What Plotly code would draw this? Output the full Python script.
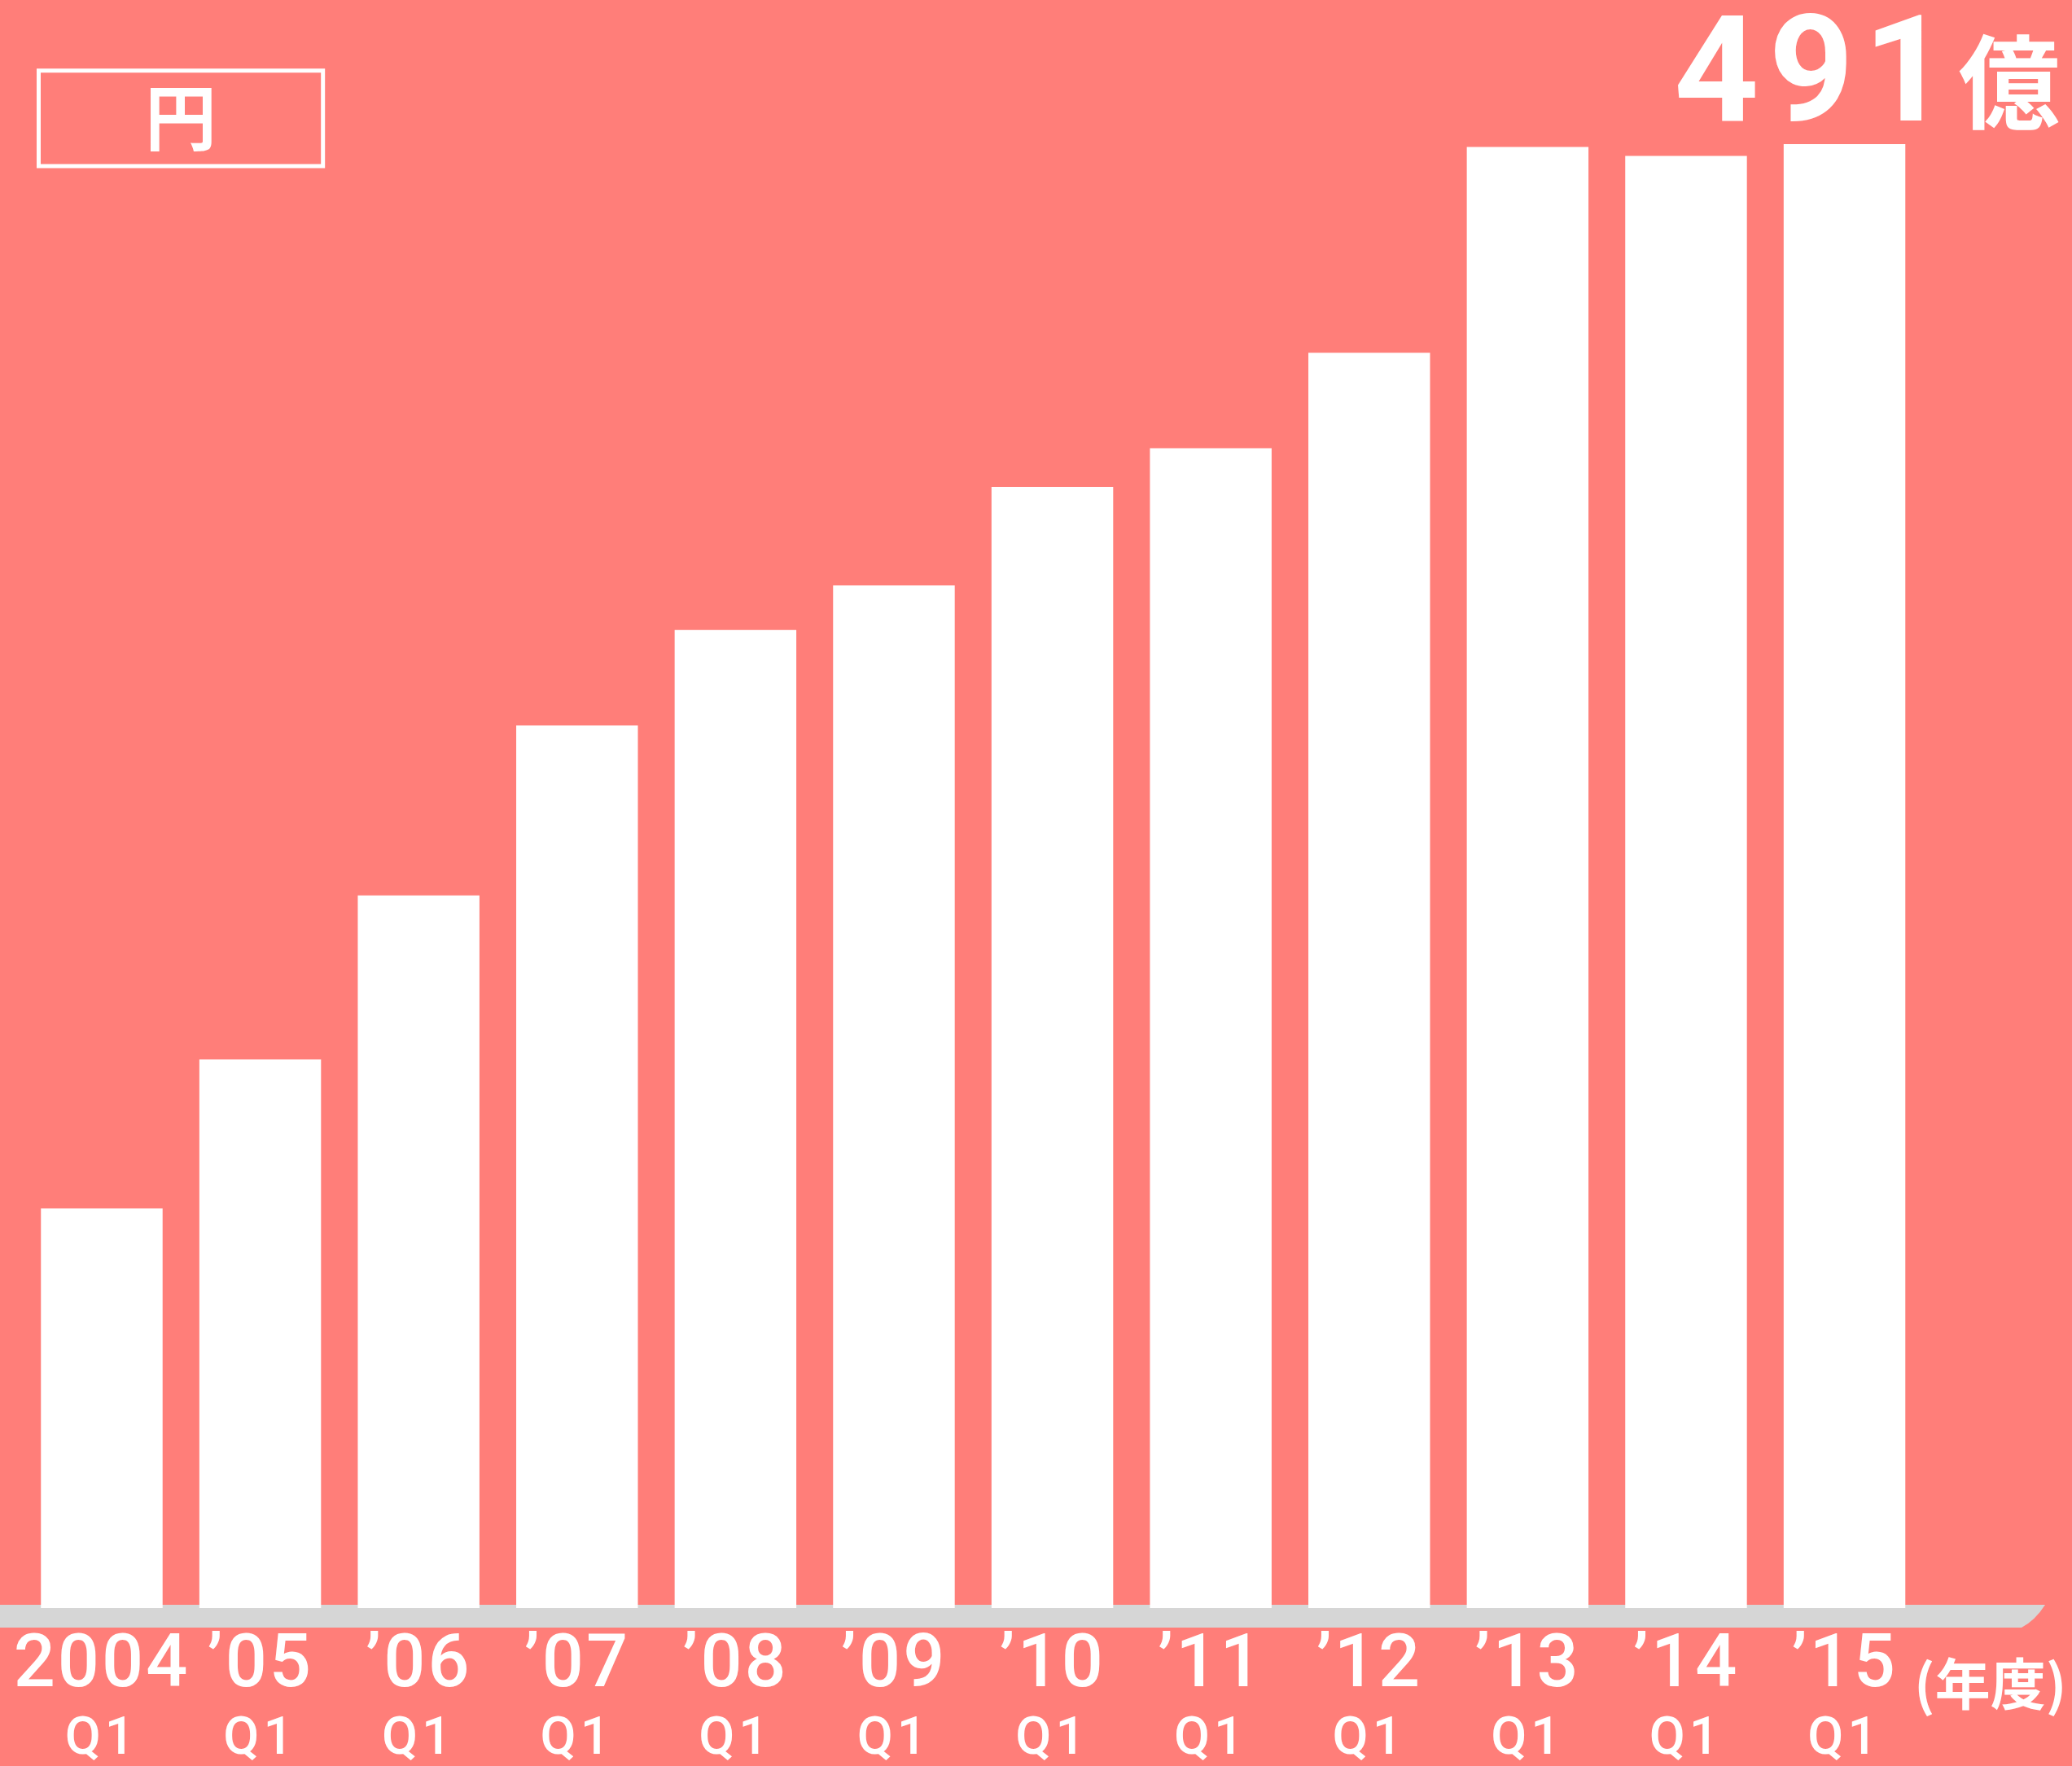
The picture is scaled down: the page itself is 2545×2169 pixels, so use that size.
import plotly.graph_objects as go

# ---- data ----
years = ["2004", "’05", "’06", "’07", "’08", "’09", "’10", "’11", "’12", "’13", "’14", "’15"]
quarters = ["Q1", "Q1", "Q1", "Q1", "Q1", "Q1", "Q1", "Q1", "Q1", "Q1", "Q1", "Q1"]
values = [134, 184, 239, 296, 328, 343, 376, 389, 421, 490, 487, 491]  # 億円
unit_label = "円"
total_label = "491"
total_unit = "億"
axis_unit = "(年度)"

categories = [f"{y} {q}" for y, q in zip(years, quarters)]
ticktext = [
    f"<span style='font-size:90px;letter-spacing:3px'>{y}</span><br>"
    f"<span style='letter-spacing:5px'>{q}</span>"
    for y, q in zip(years, quarters)
]

W, H = 2545, 2169
BOTTOM = 1975  # pixel of the baseline
BG = "#FF7E79"
FONT = "Noto Sans CJK JP"
TICKFONT = "Roboto"


def px_x(p):
    return p / W


def px_y(p):
    return (BOTTOM - p) / BOTTOM


fig = go.Figure()
fig.add_trace(go.Bar(
    x=categories, y=values,
    marker=dict(color="white", line=dict(width=0)),
    width=0.768,
    hoverinfo="skip",
))

fig.update_layout(
    width=W, height=H,
    margin=dict(l=0, r=0, t=0, b=H - BOTTOM, pad=0, autoexpand=False),
    paper_bgcolor=BG, plot_bgcolor="rgba(0,0,0,0)",
    showlegend=False,
    xaxis=dict(
        type="category",
        automargin=False,
        range=[-0.6423, 12.436],
        tickmode="array", tickvals=categories, ticktext=ticktext,
        tickfont=dict(family=TICKFONT, size=64, color="white", weight=500),
        showgrid=False, zeroline=False, showline=False, ticks="",
        ticklabelstandoff=31,
        fixedrange=True,
    ),
    yaxis=dict(
        automargin=False,
        range=[0, 539.3], visible=False, showgrid=False, zeroline=False,
        fixedrange=True,
    ),
    shapes=[
        # gray base band
        dict(type="path", xref="paper", yref="paper", layer="below",
             path=(f"M {px_x(0)} {px_y(1971)} L {px_x(2512)} {px_y(1971)} "
                   f"Q {px_x(2500)} {px_y(1990)} {px_x(2483)} {px_y(1999)} "
                   f"L {px_x(0)} {px_y(1999)} Z"),
             fillcolor="#D6D6D6", line=dict(width=0)),
        # unit box
        dict(type="rect", xref="paper", yref="paper", layer="above",
             x0=px_x(47.5), x1=px_x(396.7), y0=px_y(204), y1=px_y(86.8),
             line=dict(color="white", width=5), fillcolor="rgba(0,0,0,0)"),
    ],
    annotations=[
        dict(text=unit_label, xref="paper", yref="paper",
             x=px_x(222), y=px_y(139), xanchor="center", yanchor="middle",
             showarrow=False,
             font=dict(family=FONT, size=88, color="white", weight="bold")),
        dict(text=(f"<span style='letter-spacing:12px'>{total_label}</span>"
                   f"<span style='font-size:125px'>{total_unit}</span>"),
             xref="paper", yref="paper",
             x=px_x(2532), y=px_y(0), xanchor="right", yanchor="top",
             height=190, valign="bottom",
             showarrow=False,
             font=dict(family=f"Roboto, {FONT}", size=182, color="white",
                       weight="bold")),
        dict(text=axis_unit, xref="paper", yref="paper",
             x=px_x(2444), y=px_y(2064), xanchor="center", yanchor="middle",
             showarrow=False,
             font=dict(family=FONT, size=68, color="white", weight="bold")),
    ],
)

fig.write_html("out.html", config={"displayModeBar": False},
               post_script="document.body.style.margin='0px';")
